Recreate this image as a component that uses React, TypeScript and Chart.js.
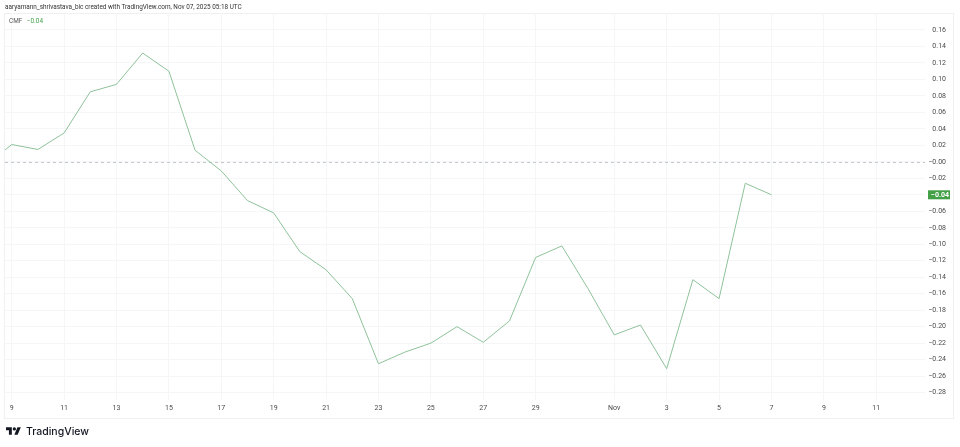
import { useEffect, useRef } from "react";
import { Chart, registerables } from "chart.js";

Chart.register(...registerables);

// daily CMF readings, Oct 8 to Nov 7 2025 (Oct 8 sits just past the left edge)
const DATES = [
    "2025-10-08", "2025-10-09", "2025-10-10", "2025-10-11", "2025-10-12",
    "2025-10-13", "2025-10-14", "2025-10-15", "2025-10-16", "2025-10-17",
    "2025-10-18", "2025-10-19", "2025-10-20", "2025-10-21", "2025-10-22",
    "2025-10-23", "2025-10-24", "2025-10-25", "2025-10-26", "2025-10-27",
    "2025-10-28", "2025-10-29", "2025-10-30", "2025-10-31", "2025-11-01",
    "2025-11-02", "2025-11-03", "2025-11-04", "2025-11-05", "2025-11-06",
    "2025-11-07",
];
const CMF = [
    -0.005, 0.021, 0.015, 0.035, 0.085,
    0.094, 0.132, 0.110, 0.014, -0.011,
    -0.047, -0.062, -0.109, -0.131, -0.166,
    -0.245, -0.231, -0.220, -0.200, -0.219,
    -0.193, -0.116, -0.102, -0.154, -0.210,
    -0.198, -0.251, -0.143, -0.166, -0.026,
    -0.040,
];

const X_TICK_DATES = [
    "2025-10-09", "2025-10-11", "2025-10-13", "2025-10-15", "2025-10-17",
    "2025-10-19", "2025-10-21", "2025-10-23", "2025-10-25", "2025-10-27",
    "2025-10-29", "2025-11-01", "2025-11-03", "2025-11-05", "2025-11-07",
    "2025-11-09", "2025-11-11",
];
const X_TICK_LABELS = [
    "9", "11", "13", "15", "17", "19", "21", "23", "25", "27",
    "29", "Nov", "3", "5", "7", "9", "11",
];

const Y_TICKS = [
    0.16, 0.14, 0.12, 0.10, 0.08, 0.06, 0.04, 0.02, 0,
    -0.02, -0.04, -0.06, -0.08, -0.10, -0.12, -0.14, -0.16,
    -0.18, -0.20, -0.22, -0.24, -0.26, -0.28,
];
const Y_TICK_LABELS = [
    "0.16", "0.14", "0.12", "0.10", "0.08", "0.06", "0.04", "0.02", "\u22120.00",
    "\u22120.02", "\u22120.04", "\u22120.06", "\u22120.08", "\u22120.10", "\u22120.12",
    "\u22120.14", "\u22120.16", "\u22120.18", "\u22120.20", "\u22120.22", "\u22120.24",
    "\u22120.26", "\u22120.28",
];

const LAST_LABEL = "\u22120.04";

const GREEN = "#43a047";
const LINE = "#8fc29a";
const FONT = "Roboto, 'Noto Sans', sans-serif";

const ORIGIN = Date.UTC(2025, 9, 9);
const dayIndex = (d: string) => (Date.parse(d + "T00:00:00Z") - ORIGIN) / 86400000;

const overlay = {
    id: "overlay",
    beforeDatasetsDraw(chart: Chart) {
        const { ctx, chartArea } = chart;
        const y = chart.scales.y.getPixelForValue(0);
        ctx.save();
        ctx.strokeStyle = "#c4c7ce";
        ctx.lineWidth = 1;
        ctx.setLineDash([3, 3]);
        ctx.beginPath();
        ctx.moveTo(chartArea.left, Math.round(y) + 0.5);
        ctx.lineTo(chartArea.right, Math.round(y) + 0.5);
        ctx.stroke();
        ctx.restore();
    },
    afterDraw(chart: Chart) {
        const { ctx, chartArea } = chart;
        const y = chart.scales.y.getPixelForValue(CMF[CMF.length - 1]);
        ctx.save();
        ctx.fillStyle = GREEN;
        ctx.fillRect(chartArea.right + 3, y - 4.5, 22, 9);
        ctx.fillStyle = "#ffffff";
        ctx.font = `bold 7px ${FONT}`;
        ctx.textAlign = "right";
        ctx.textBaseline = "middle";
        ctx.fillText(LAST_LABEL, chartArea.right + 24, y + 0.5);
        ctx.restore();
    },
};

export default function App() {
    const canvasRef = useRef<HTMLCanvasElement>(null);
    const chartRef = useRef<Chart | null>(null);

    useEffect(() => {
        if (!canvasRef.current) return;
        if (chartRef.current) chartRef.current.destroy();

        chartRef.current = new Chart(canvasRef.current, {
            type: "line",
            data: {
                datasets: [
                    {
                        label: "CMF",
                        data: DATES.map((d, i) => ({ x: dayIndex(d), y: CMF[i] })),
                        borderColor: LINE,
                        borderWidth: 1,
                        pointRadius: 0,
                        tension: 0,
                    },
                ],
            },
            options: {
                animation: false,
                responsive: true,
                maintainAspectRatio: false,
                layout: { padding: { left: 5, top: 13, right: 14, bottom: 29 } },
                plugins: {
                    legend: { display: false },
                    tooltip: { enabled: false },
                },
                scales: {
                    x: {
                        type: "linear",
                        min: -0.255,
                        max: 34.86,
                        afterBuildTicks: (scale) => {
                            scale.ticks = X_TICK_DATES.map((d) => ({ value: dayIndex(d) }));
                        },
                        afterFit: (scale) => {
                            scale.height = 18;
                        },
                        grid: { color: "#f5f6f8", drawTicks: false },
                        border: { display: false },
                        ticks: {
                            autoSkip: false,
                            maxRotation: 0,
                            padding: 4,
                            color: "#4a4a4a",
                            font: { family: FONT, size: 7 },
                            callback: (_v, i) => X_TICK_LABELS[i],
                        },
                    },
                    y: {
                        type: "linear",
                        position: "right",
                        min: -0.289,
                        max: 0.1806,
                        afterBuildTicks: (scale) => {
                            scale.ticks = Y_TICKS.map((v) => ({ value: v }));
                        },
                        afterFit: (scale) => {
                            scale.width = 21;
                        },
                        grid: { color: "#f5f6f8", drawTicks: false },
                        border: { display: false },
                        ticks: {
                            crossAlign: "far",
                            color: "#4a4a4a",
                            font: { family: FONT, size: 7 },
                            callback: (_v, i) => Y_TICK_LABELS[i],
                        },
                    },
                },
            },
            plugins: [overlay],
        });

        return () => {
            chartRef.current?.destroy();
            chartRef.current = null;
        };
    }, []);

    return (
        <div
            style={{
                position: "fixed",
                left: 0,
                top: 0,
                width: 960,
                height: 447,
                background: "#ffffff",
                fontFamily: FONT,
            }}
        >
            <div
                style={{
                    position: "absolute",
                    left: 4,
                    top: 13,
                    width: 948,
                    height: 404,
                    border: "1px solid #eef0f3",
                }}
            />
            <canvas
                ref={canvasRef}
                style={{ position: "absolute", left: 0, top: 0, width: 960, height: 447 }}
                role="img"
                aria-label="Line chart of Chaikin Money Flow, daily"
            />
            <div
                style={{
                    position: "absolute",
                    left: 5,
                    top: 2,
                    fontSize: 6.4,
                    lineHeight: "10px",
                    color: "#333333",
                    whiteSpace: "nowrap",
                }}
            >
                aaryamann_shrivastava_bic created with TradingView.com, Nov 07, 2025 05:18 UTC
            </div>
            <div
                style={{
                    position: "absolute",
                    left: 9,
                    top: 16,
                    fontSize: 6.4,
                    lineHeight: "10px",
                    color: "#555555",
                    whiteSpace: "nowrap",
                }}
            >
                CMF <span style={{ color: GREEN, marginLeft: 3 }}>{LAST_LABEL}</span>
            </div>
            <div
                style={{
                    position: "absolute",
                    left: 6,
                    top: 424,
                    height: 14,
                    display: "flex",
                    alignItems: "center",
                    gap: 5,
                    color: "#131722",
                }}
            >
                <svg width="15" height="8" viewBox="0 4 36 18" fill="#131722">
                    <path d="M14 22H7V11H0V4h14v18zM28 22h-8l7.5-18h8L28 22z" />
                    <circle cx="20" cy="8" r="4" />
                </svg>
                <span style={{ fontSize: 10.5, fontWeight: 500, fontFamily: "Inter, Roboto, sans-serif" }}>
                    TradingView
                </span>
            </div>
        </div>
    );
}
